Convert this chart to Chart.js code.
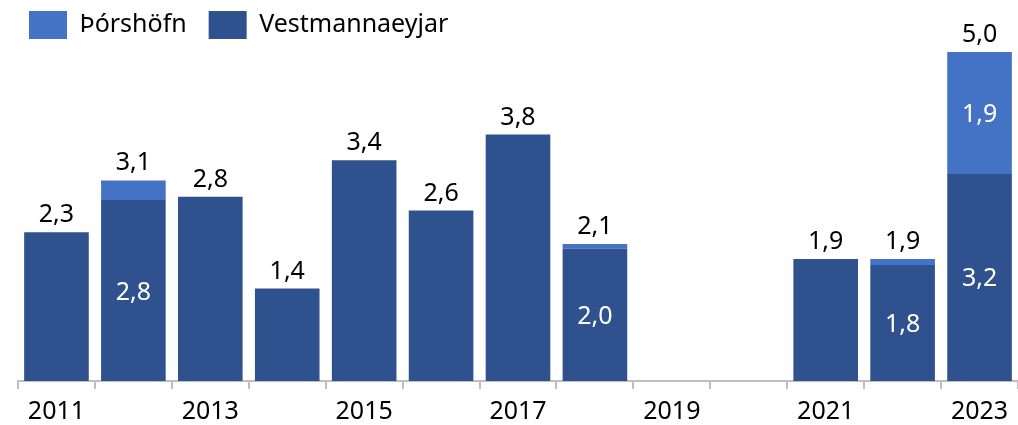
<!DOCTYPE html>
<html>
<head>
<meta charset="utf-8">
<script src="https://cdn.jsdelivr.net/npm/chart.js@4"></script>
<style>
  html, body { margin: 0; padding: 0; background: #fff; }
  #wrap { width: 1018px; height: 425px; position: relative; }
</style>
</head>
<body>
<div id="wrap"><canvas id="c" width="1018" height="425"></canvas></div>
<script>
const categories = ['2011','2012','2013','2014','2015','2016','2017','2018','2019','2020','2021','2022','2023'];
const vestmannaeyjar = [2.27, 2.76, 2.81, 1.41, 3.37, 2.60, 3.76, 2.02, 0, 0, 1.86, 1.77, 3.16];
const thorshofn      = [0,    0.30, 0,    0,    0,    0,    0,    0.07, 0, 0, 0,    0.09, 1.86];
const shownTickLabels = ['2011','2013','2015','2017','2019','2021','2023'];

const FONT = '"Noto Sans", sans-serif';
const fmt = v => v.toFixed(1).replace('.', ',');

const labelPlugin = {
  id: 'barLabels',
  afterDatasetsDraw(chart) {
    const ctx = chart.ctx;
    const m0 = chart.getDatasetMeta(0);
    const m1 = chart.getDatasetMeta(1);
    ctx.save();
    ctx.font = '25px ' + FONT;
    ctx.textAlign = 'center';
    for (let i = 0; i < categories.length; i++) {
      const a = vestmannaeyjar[i], b = thorshofn[i];
      const total = a + b;
      if (total <= 0) continue;
      const topEl = b > 0 ? m1.data[i] : m0.data[i];
      ctx.fillStyle = '#000';
      ctx.textBaseline = 'alphabetic';
      ctx.fillText(fmt(total), topEl.x, topEl.y - 10);
      if (a > 0 && b > 0) {
        ctx.fillStyle = '#fff';
        const segs = [[m0.data[i], a], [m1.data[i], b]];
        for (const [el, v] of segs) {
          const h = Math.abs(el.base - el.y);
          if (h < 40) continue;
          const cy = (el.base + el.y) / 2;
          ctx.fillText(fmt(v), el.x, cy + 9);
        }
      }
    }
    ctx.restore();
  }
};

new Chart(document.getElementById('c'), {
  type: 'bar',
  data: {
    labels: categories,
    datasets: [
      { label: 'Vestmannaeyjar', data: vestmannaeyjar, backgroundColor: '#2F528F', borderWidth: 0 },
      { label: 'Þórshöfn', data: thorshofn, backgroundColor: '#4472C4', borderWidth: 0 }
    ]
  },
  options: {
    responsive: false,
    animation: false,
    devicePixelRatio: 1,
    layout: { padding: { top: -11, left: 7, right: 0, bottom: 0 } },
    datasets: { bar: { categoryPercentage: 1, barPercentage: 0.84 } },
    plugins: {
      legend: {
        position: 'top',
        align: 'start',
        reverse: true,
        maxHeight: 60,
        labels: {
          boxWidth: 38,
          boxHeight: 28,
          padding: 22,
          color: '#000',
          font: { family: FONT, size: 25 }
        }
      },
      tooltip: { enabled: false }
    },
    scales: {
      x: {
        stacked: true,
        grid: { display: true, drawOnChartArea: false, drawTicks: true, tickLength: 8, color: '#BFBFBF', lineWidth: 2, offset: true },
        border: { display: true, color: '#BFBFBF', width: 2 },
        ticks: {
          autoSkip: false,
          maxRotation: 0,
          padding: 8,
          color: '#000',
          font: { family: FONT, size: 25 },
          callback: function(val, idx) {
            const l = categories[idx];
            return shownTickLabels.includes(l) ? l : '';
          }
        },
        afterFit(scale) { scale.height = 44; }
      },
      y: {
        stacked: true,
        min: 0,
        max: 5.066,
        grid: { display: false },
        border: { display: false },
        ticks: { display: false },
        afterFit(scale) { scale.width = 11; }
      }
    }
  },
  plugins: [labelPlugin]
});
</script>
</body>
</html>
